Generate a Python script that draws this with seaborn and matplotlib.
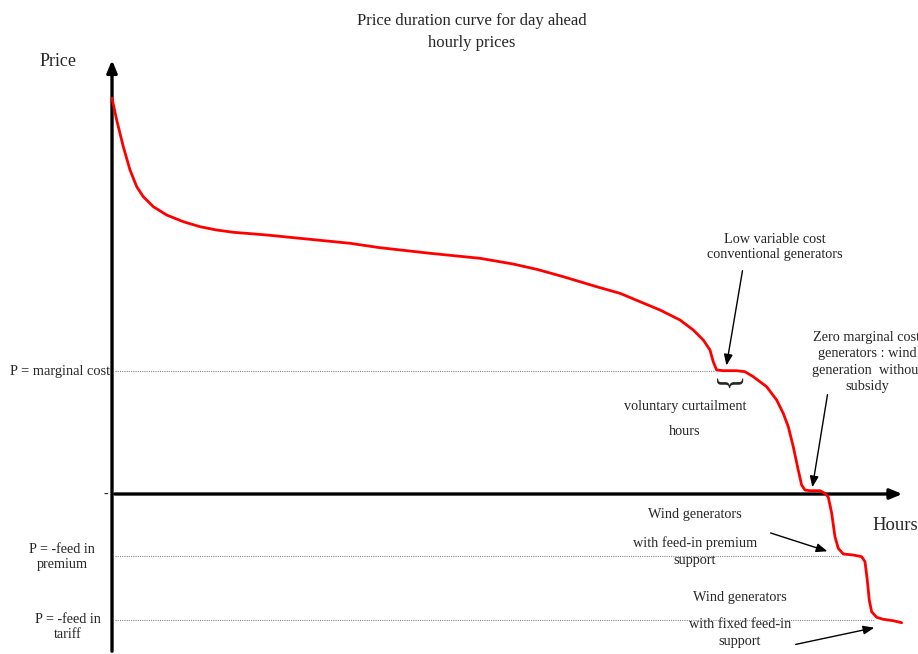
import matplotlib
matplotlib.use("Agg")
import matplotlib.pyplot as plt
import pandas as pd
import seaborn as sns

# price duration curve (hours in % of year, price in arbitrary units)
hours = [0.0, 0.59, 1.43, 2.28, 3.13, 3.96, 5.23, 6.92, 9.03, 11.14, 13.25, 15.35,
         19.58, 23.80, 30.13, 33.92, 40.25, 46.58, 50.76, 53.76, 57.13, 61.35, 64.30,
         66.84, 69.37, 71.90, 73.58, 74.85, 75.70, 76.11, 76.54, 77.38, 79.08, 80.13,
         81.18, 82.87, 84.14, 84.97, 85.61, 86.24, 86.87, 87.30, 87.72, 88.35, 89.62,
         90.25, 90.67, 91.10, 91.52, 91.94, 92.57, 93.84, 94.90, 95.32, 95.61, 95.86,
         96.16, 96.80, 97.63, 98.90, 99.96]
price = [128.68, 121.63, 112.94, 105.37, 99.93, 96.68, 93.43, 90.73, 88.55, 86.93, 85.85, 85.11,
         84.23, 83.15, 81.53, 80.10, 78.28, 76.65, 74.80, 73.07, 70.67, 67.41, 65.27,
         62.54, 59.84, 56.59, 53.33, 50.08, 46.83, 43.02, 40.33, 40.10, 40.10, 39.77,
         38.15, 34.89, 30.57, 26.24, 21.89, 15.38, 7.80, 2.93, 1.30, 1.07, 1.07,
         0.23, -0.98, -6.18, -13.89, -17.66, -19.51, -19.84, -20.39, -22.02, -27.97, -34.47,
         -38.28, -40.10, -40.75, -41.20, -41.85]

# reference price levels and where the dotted line meets the curve
level_names = ["P = marginal cost", "P = -feed in\npremium", "P = -feed in\ntariff"]
level_values = [40, -20, -41]
level_end_hours = [76.3, 92.2, 96.6]

df = pd.DataFrame({"hours": hours, "price": price})

sns.set_theme(style="white")
plt.rcParams["font.family"] = ["Liberation Serif", "DejaVu Serif"]

fig = plt.figure(figsize=(9.18, 6.54), dpi=100)
ax = fig.add_axes([0, 0, 1, 1])
ax.set_xlim(-14.18, 102.03)
ax.set_ylim(-52.03, 160.65)
ax.axis("off")

# dotted reference lines
ax.hlines(level_values, 0.4, level_end_hours, colors="#888888", linestyles=(0, (1, 1)), linewidth=0.8)

# axes drawn as arrows
ax.annotate("", xy=(0, 142), xytext=(0, -52.03),
            arrowprops=dict(arrowstyle="-|>,head_length=0.6,head_width=0.25", color="black", lw=2.4))
ax.annotate("", xy=(100.4, 0), xytext=(0, 0),
            arrowprops=dict(arrowstyle="-|>,head_length=0.6,head_width=0.25", color="black", lw=2.4))

sns.lineplot(data=df, x="hours", y="price", color="red", linewidth=2.0, ax=ax, zorder=5,
             solid_joinstyle="round", solid_capstyle="round")

# left-hand labels
ax.text(-0.2, level_values[0], level_names[0], ha="right", va="center", fontsize=10.4)
ax.text(-6.33, -20.6, level_names[1], ha="center", va="center", fontsize=10.2, linespacing=1.2)
ax.text(-5.57, -43.3, level_names[2], ha="center", va="center", fontsize=10.2, linespacing=1.2)
ax.text(-0.5, 0, "-", ha="right", va="center", fontsize=10)

fig.text(472 / 918, 1 - 32 / 654, "Price duration curve for day ahead\nhourly prices",
         ha="center", va="center", fontsize=12, linespacing=1.45)
fig.text(58 / 918, 1 - 62 / 654, "Price", ha="center", va="center", fontsize=13)
ax.text(99.1, -10.4, "Hours", ha="center", va="center", fontsize=13.4)

fs = 10.3
arrow = dict(arrowstyle="-|>,head_length=0.55,head_width=0.22", color="black", lw=1.0)

ax.text(83.92, 80.3, "Low variable cost\nconventional generators", ha="center", va="center",
        fontsize=fs, linespacing=1.17)
ax.annotate("", xy=(77.72, 40.9), xytext=(79.87, 73.5), arrowprops=arrow)

ax.text(78.1, 37.07, "{", rotation=90, ha="center", va="center", fontsize=23)
ax.text(72.53, 28.6, "voluntary curtailment", ha="center", va="center", fontsize=fs)
ax.text(72.53, 20.2, "hours", ha="center", va="center", fontsize=fs)

# this block runs off the right edge in the original too
ax.text(95.57, 42.9, "Zero marginal cost\ngenerators : wind\ngeneration  without\nsubsidy",
        ha="center", va="center", fontsize=fs, linespacing=1.36)
ax.annotate("", xy=(88.6, 1.3), xytext=(90.63, 33.2), arrowprops=arrow)

ax.text(73.8, -6.8, "Wind generators", ha="center", va="center", fontsize=fs)
ax.text(73.8, -15.9, "with feed-in premium", ha="center", va="center", fontsize=fs)
ax.text(73.8, -21.5, "support", ha="center", va="center", fontsize=fs)
ax.annotate("", xy=(90.89, -18.9), xytext=(83.04, -12.4), arrowprops=arrow)

ax.text(79.49, -33.8, "Wind generators", ha="center", va="center", fontsize=fs)
ax.text(79.49, -42.3, "with fixed feed-in", ha="center", va="center", fontsize=fs)
ax.text(79.49, -48.1, "support", ha="center", va="center", fontsize=fs)
ax.annotate("", xy=(96.84, -43.3), xytext=(86.2, -49.1), arrowprops=arrow)

fig.savefig("out.png", dpi=100)
